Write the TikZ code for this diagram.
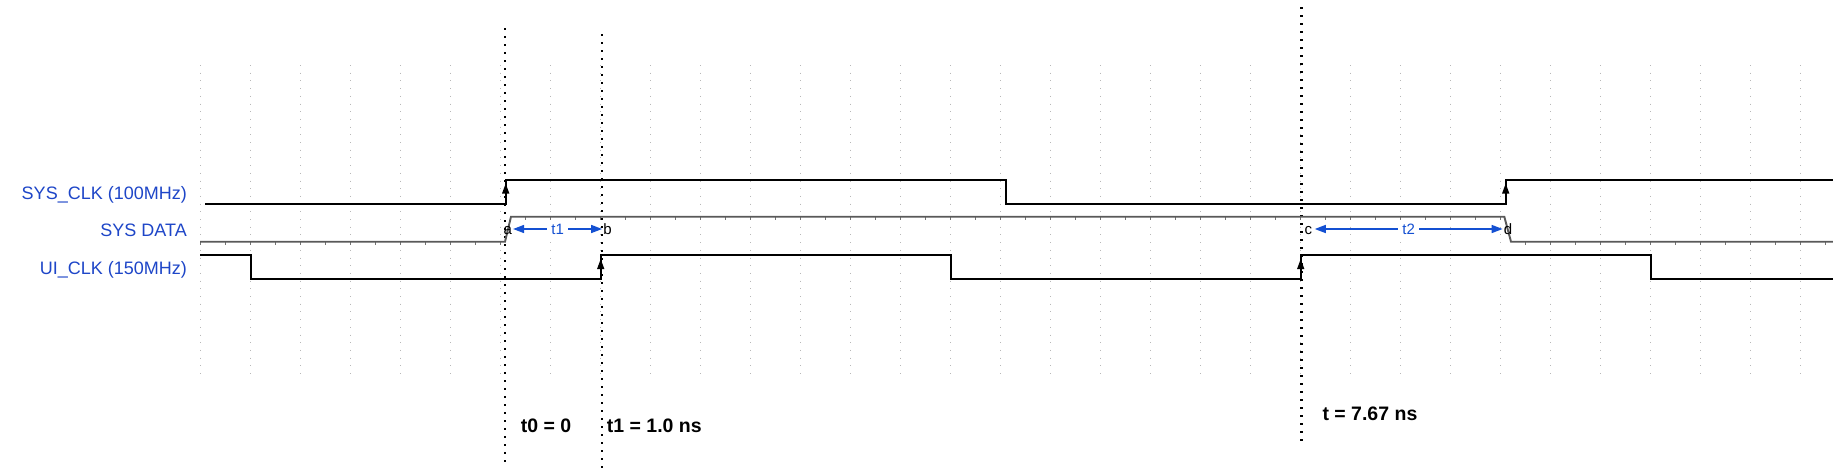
\documentclass[tikz,border=0pt]{standalone}
\usepackage{fontspec}
\setmainfont{Liberation Sans}
\usetikzlibrary{arrows.meta}
\definecolor{lblblue}{RGB}{30,70,200}
\definecolor{arrblue}{RGB}{20,80,210}
\begin{document}
\begin{tikzpicture}[x=1pt,y=-1pt,
  gridline/.style={draw=black!28, line width=0.9pt, dash pattern=on 0.9pt off 6.8pt},
  marker/.style={draw=black, line width=2.2pt, dash pattern=on 2.2pt off 5.8pt},
  wave/.style={draw=black, line width=1.7pt, line join=miter},
  datawave/.style={draw=black!65, line width=1.9pt, line join=miter},
  datatick/.style={draw=black!55, line width=0.7pt},
  siglabel/.style={anchor=base east, inner sep=0pt, text=lblblue, font=\fontsize{18}{21}\selectfont},
  ptlabel/.style={inner xsep=1pt, inner ysep=0pt, text height=10pt, text depth=0pt, font=\fontsize{15}{17}\selectfont},
  timelabel/.style={anchor=base west, inner sep=0pt, font=\fontsize{19.5}{22}\selectfont\bfseries},
  tarrow/.style={draw=arrblue, line width=1.5pt, {Triangle[length=11pt,width=8pt]}-{Triangle[length=11pt,width=8pt]}},
  tlabel/.style={fill=white, inner xsep=4pt, inner ysep=1pt, text=arrblue, font=\fontsize{15}{17}\selectfont},
  edgearrow/.style={draw=black, line width=1.2pt, -{Triangle[length=10pt,width=7pt]}},
]
\fill[white] (0,0) rectangle (1833,471);
\path[use as bounding box] (0,0) rectangle (1833,471);

% grid
\foreach \x in {200,250,...,1800} \draw[gridline] (\x,65) -- (\x,377);

% time markers
\draw[marker] (505.3,28) -- (505.3,462);
\draw[marker] (602.3,34) -- (602.3,468);
\draw[marker] (1301.5,7) -- (1301.5,441);

% signal labels
\node[siglabel] (lsys) at (187,199) {SYS\_CLK (100MHz)};
\node[siglabel] (ldata) at (187,236) {SYS DATA};
\node[siglabel] (lui) at (187,274) {UI\_CLK (150MHz)};

% SYS DATA
\foreach \x in {200,225,...,500} \draw[datatick] (\x,241.7) -- (\x,244.5);
\foreach \x in {525,550,...,1500} \draw[datatick] (\x,216.7) -- (\x,219.5);
\foreach \x in {1525,1550,...,1825} \draw[datatick] (\x,241.7) -- (\x,244.5);
\draw[datawave] (200,241.7) -- (505,241.7) -- (511,216.7) -- (1504.3,216.7) -- (1511,241.7) -- (1833,241.7);

% SYS_CLK
\draw[wave] (205,204.3) -- (505.7,204.3) -- (505.7,180) -- (1005.7,180) -- (1005.7,204.3) -- (1505.7,204.3) -- (1505.7,180) -- (1833,180);
\draw[edgearrow] (505.7,204.3) -- (505.7,183.5);
\draw[edgearrow] (1505.7,204.3) -- (1505.7,183.5);

% UI_CLK
\draw[wave] (200,255) -- (250.7,255) -- (250.7,279) -- (600.7,279) -- (600.7,255) -- (950.7,255) -- (950.7,279) -- (1300.7,279) -- (1300.7,255) -- (1650.7,255) -- (1650.7,279) -- (1833,279);
\draw[edgearrow] (600.7,279) -- (600.7,259);
\draw[edgearrow] (1300.7,279) -- (1300.7,259);

% point labels
\node[ptlabel] (a) at (507.7,229) {a};
\node[ptlabel] (b) at (607.5,229) {b};
\node[ptlabel] (c) at (1308.3,229) {c};
\node[ptlabel] (d) at (1508,229) {d};

% interval arrows
\draw[tarrow] (a.east) -- node[tlabel] (t1lbl) {t1} (b.west);
\draw[tarrow] ([xshift=1.5pt]c.east) -- node[tlabel] (t2lbl) {t2} (d.west);

% time labels
\node[timelabel] (tz) at (520.7,432) {t0 = 0};
\node[timelabel] (to) at (606.7,432) {t1 = 1.0 ns};
\node[timelabel] (tt) at (1322.3,420.3) {t = 7.67 ns};
\end{tikzpicture}
\end{document}
